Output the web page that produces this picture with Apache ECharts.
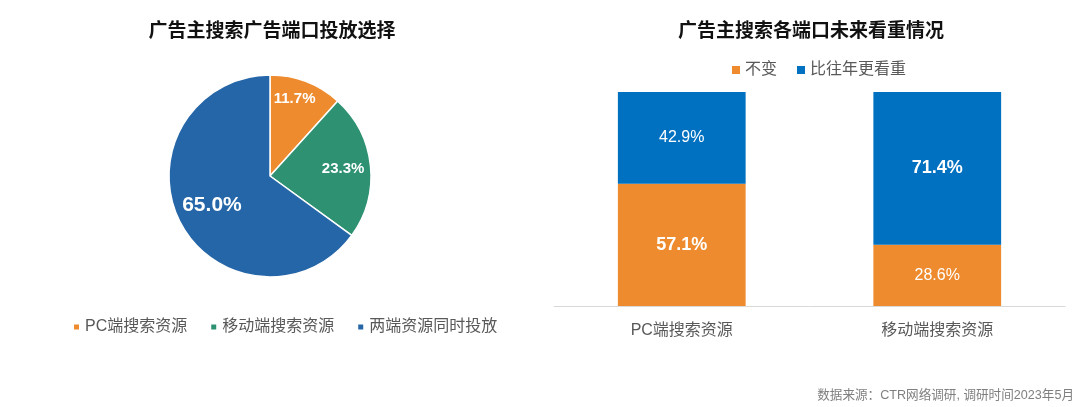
<!DOCTYPE html>
<html><head><meta charset="utf-8">
<script src="https://cdn.jsdelivr.net/npm/echarts@6/dist/echarts.min.js"></script>
<style>html,body{margin:0;padding:0;background:#fff}#c{width:1080px;height:407px}</style>
</head><body><div id="c"></div>
<script>
const pieTitle = '广告主搜索广告端口投放选择';
const pieNames = ['PC端搜索资源', '移动端搜索资源', '两端资源同时投放'];
const pieValues = [11.7, 23.3, 65.0];
const barTitle = '广告主搜索各端口未来看重情况';
const barCategories = ['PC端搜索资源', '移动端搜索资源'];
const seriesNames = ['不变', '比往年更看重'];
const unchanged = [57.1, 28.6];
const moreImportant = [42.9, 71.4];
const source = '数据来源：CTR网络调研, 调研时间2023年5月';

const FONT = '"Liberation Sans", "Noto Sans CJK SC", sans-serif';
const ORANGE = '#ED8B2E', GREEN = '#2E9272', PIEBLUE = '#2566A8', BARBLUE = '#0070C0';
const pieColors = [ORANGE, GREEN, PIEBLUE];
const pieFont = [15, 15, 21];
const pieLabelOffset = [[0, -13], [5, 0], [3, -2]];

const chart = echarts.init(document.getElementById('c'));
chart.setOption({
  textStyle: { fontFamily: FONT },
  animation: false,
  title: [
    { text: pieTitle, left: 267, top: 17, textAlign: 'center',
      textStyle: { fontSize: 19, fontWeight: 'bold', color: '#111', fontFamily: FONT } },
    { text: barTitle, left: 806, top: 17, textAlign: 'center',
      textStyle: { fontSize: 19, fontWeight: 'bold', color: '#111', fontFamily: FONT } },
    { text: source, right: 1, top: 384,
      textStyle: { fontSize: 12.6, fontWeight: 'normal', color: '#7f7f7f', fontFamily: FONT } }
  ],
  legend: [
    { data: pieNames, left: 67, top: 314, itemWidth: 7, itemHeight: 7, itemGap: 22, icon: 'rect',
      textStyle: { fontSize: 16, color: '#595959', fontFamily: FONT } },
    { data: seriesNames, left: 727, top: 57, itemWidth: 8, itemHeight: 8, itemGap: 20, icon: 'rect',
      textStyle: { fontSize: 16, color: '#595959', fontFamily: FONT } }
  ],
  grid: { left: 554, right: 15, top: 92, bottom: 101 },
  xAxis: {
    type: 'category', data: barCategories,
    axisLine: { lineStyle: { color: '#d9d9d9', width: 1 } },
    axisTick: { show: false },
    axisLabel: { fontSize: 16, color: '#595959', margin: 17, fontFamily: FONT }
  },
  yAxis: { type: 'value', min: 0, max: 100, show: false, splitLine: { show: false } },
  series: [
    {
      type: 'pie', name: 'pie', center: [270, 176], radius: [0, 101],
      startAngle: 90, clockwise: true,
      itemStyle: { borderColor: '#fff', borderWidth: 1.5 },
      label: { show: false }, labelLine: { show: false },
      data: pieNames.map((n, i) => ({ name: n, value: pieValues[i], itemStyle: { color: pieColors[i] } }))
    },
    {
      type: 'pie', name: 'pieLabels', center: [270, 176], radius: [30, 101],
      startAngle: 90, clockwise: true, silent: true, legendHoverLink: false,
      itemStyle: { color: 'rgba(0,0,0,0)' },
      label: { show: true, position: 'inside', color: '#fff', fontWeight: 'bold', fontFamily: FONT,
        formatter: p => p.value.toFixed(1) + '%' },
      labelLine: { show: false },
      data: pieNames.map((n, i) => ({ name: n, value: pieValues[i],
        label: { fontSize: pieFont[i], offset: pieLabelOffset[i] } }))
    },
    {
      type: 'bar', name: seriesNames[0], stack: 's', barWidth: '50%',
      itemStyle: { color: ORANGE },
      data: unchanged.map((v, i) => ({ value: v, label: {
        show: true, position: 'inside', color: '#fff', fontFamily: FONT,
        fontSize: v > moreImportant[i] ? 18 : 16, fontWeight: v > moreImportant[i] ? 'bold' : 'normal',
        formatter: p => p.value.toFixed(1) + '%' } }))
    },
    {
      type: 'bar', name: seriesNames[1], stack: 's', barWidth: '50%',
      itemStyle: { color: BARBLUE },
      data: moreImportant.map((v, i) => ({ value: v, label: {
        show: true, position: 'inside', color: '#fff', fontFamily: FONT,
        fontSize: v > unchanged[i] ? 18 : 16, fontWeight: v > unchanged[i] ? 'bold' : 'normal',
        formatter: p => p.value.toFixed(1) + '%' } }))
    }
  ]
});
</script></body></html>
